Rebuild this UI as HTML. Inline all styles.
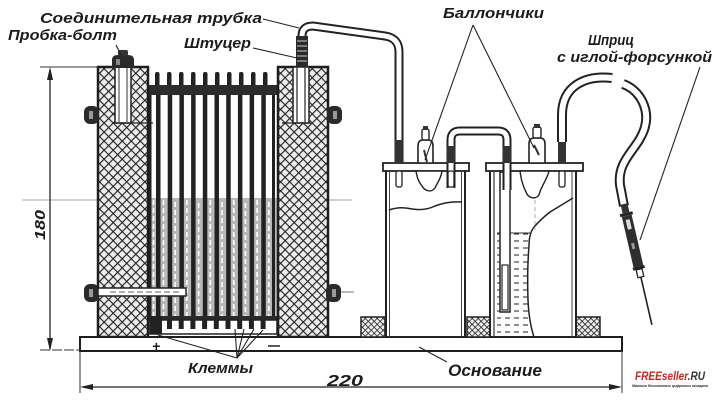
<!DOCTYPE html>
<html><head><meta charset="utf-8">
<style>
html,body{margin:0;padding:0;background:#fff;}
svg{display:block;}
text{font-family:"Liberation Sans",sans-serif;font-weight:bold;font-style:italic;fill:#1c1c1c;}
</style></head><body>
<svg width="720" height="405" viewBox="0 0 720 405" xmlns="http://www.w3.org/2000/svg">
<defs>
<pattern id="h" width="6.4" height="6.4" patternUnits="userSpaceOnUse" patternTransform="rotate(45)">
<rect width="6.4" height="6.4" fill="#ededed"/>
<path d="M0 0H6.4M0 0V6.4" stroke="#222" stroke-width="2.3"/>
</pattern>
<pattern id="hs" width="4.2" height="4.2" patternUnits="userSpaceOnUse" patternTransform="rotate(45)">
<rect width="4.2" height="4.2" fill="#eee"/>
<path d="M0 0H4.2M0 0V4.2" stroke="#262626" stroke-width="1.6"/>
</pattern>
<pattern id="lq" width="9" height="7" patternUnits="userSpaceOnUse">
<path d="M1 3H6" stroke="#333" stroke-width="1.1"/>
</pattern>
</defs>

<rect width="720" height="405" fill="#fff"/>

<!-- faint center lines -->
<line x1="22" y1="200" x2="352" y2="200" stroke="#888" stroke-width="0.8"/>
<line x1="340" y1="292" x2="354" y2="292" stroke="#555" stroke-width="0.8"/>

<!-- Plates region -->
<g>
<rect x="148" y="95" width="130" height="225" fill="#fff"/>
<rect x="149" y="198" width="128" height="120" fill="#b8b8b8"/>
<g fill="#222">
<rect x="156" y="95" width="4.5" height="225"/>
<rect x="167.7" y="95" width="4.5" height="225"/>
<rect x="179.4" y="95" width="4.5" height="225"/>
<rect x="191.1" y="95" width="4.5" height="225"/>
<rect x="202.8" y="95" width="4.5" height="225"/>
<rect x="214.5" y="95" width="4.5" height="225"/>
<rect x="226.2" y="95" width="4.5" height="225"/>
<rect x="237.9" y="95" width="4.5" height="225"/>
<rect x="249.6" y="95" width="4.5" height="225"/>
<rect x="261.3" y="95" width="4.5" height="225"/>
<rect x="272" y="95" width="3" height="225"/>
<rect x="149" y="95" width="2.5" height="225"/>
</g>
<g stroke="#fff" stroke-width="1.6" stroke-dasharray="5 3">
<line x1="163.5" y1="200" x2="163.5" y2="316"/>
<line x1="175.2" y1="202" x2="175.2" y2="316"/>
<line x1="186.9" y1="200" x2="186.9" y2="316"/>
<line x1="198.6" y1="203" x2="198.6" y2="316"/>
<line x1="210.3" y1="200" x2="210.3" y2="316"/>
<line x1="222" y1="202" x2="222" y2="316"/>
<line x1="233.7" y1="200" x2="233.7" y2="316"/>
<line x1="245.4" y1="203" x2="245.4" y2="316"/>
<line x1="257.1" y1="200" x2="257.1" y2="316"/>
<line x1="268.8" y1="202" x2="268.8" y2="316"/>
<line x1="153.5" y1="200" x2="153.5" y2="316"/>
</g>
<g fill="#222">
<rect x="155" y="72" width="4.5" height="16" rx="2"/>
<rect x="167" y="72" width="4.5" height="16" rx="2"/>
<rect x="179" y="72" width="4.5" height="16" rx="2"/>
<rect x="191" y="72" width="4.5" height="16" rx="2"/>
<rect x="203" y="72" width="4.5" height="16" rx="2"/>
<rect x="215" y="72" width="4.5" height="16" rx="2"/>
<rect x="227" y="72" width="4.5" height="16" rx="2"/>
<rect x="239" y="72" width="4.5" height="16" rx="2"/>
<rect x="251" y="72" width="4.5" height="16" rx="2"/>
<rect x="263" y="72" width="4.5" height="16" rx="2"/>
<rect x="148" y="85" width="130" height="10" fill="#2c2c2c"/>
</g>
<rect x="149" y="316" width="129" height="5" fill="#2a2a2a"/>
<rect x="150" y="320" width="127" height="14" fill="#fff" stroke="#222" stroke-width="1.5"/>
<g fill="#222">
<rect x="150" y="316" width="12" height="18"/>
<rect x="167" y="320" width="5" height="9"/>
<rect x="178.7" y="320" width="5" height="9"/>
<rect x="190.4" y="320" width="5" height="9"/>
<rect x="202.1" y="320" width="5" height="9"/>
<rect x="213.8" y="320" width="5" height="9"/>
<rect x="225.5" y="320" width="5" height="9"/>
<rect x="237.2" y="320" width="5" height="9"/>
<rect x="248.9" y="320" width="5" height="9"/>
<rect x="260.6" y="320" width="5" height="9"/>
</g>
</g>

<!-- Hatched blocks -->
<rect x="98" y="67" width="50" height="270" fill="url(#h)" stroke="#1e1e1e" stroke-width="2.5"/>
<rect x="278" y="67" width="50" height="270" fill="url(#h)" stroke="#1e1e1e" stroke-width="2.5"/>

<!-- Left bolt -->
<rect x="115" y="67" width="16" height="56" fill="#fff" stroke="#222" stroke-width="1.5"/>
<line x1="119" y1="67" x2="119" y2="122" stroke="#333" stroke-width="1"/>
<line x1="127" y1="67" x2="127" y2="122" stroke="#333" stroke-width="1"/>
<line x1="113" y1="123" x2="153" y2="123" stroke="#222" stroke-width="1.2"/>
<path d="M112,68 L112,60 Q112,55 118,55 L128,55 Q134,55 134,60 L134,68 Z" fill="#2a2a2a"/>
<rect x="118" y="50" width="10" height="6" rx="2" fill="#333"/>
<rect x="116" y="59" width="4" height="6" fill="#888"/>

<!-- Right fitting -->
<rect x="293" y="67" width="16" height="56" fill="#fff" stroke="#222" stroke-width="1.5"/>
<line x1="297" y1="67" x2="297" y2="122" stroke="#333" stroke-width="1.3"/>
<line x1="305" y1="67" x2="305" y2="122" stroke="#333" stroke-width="1.3"/>
<line x1="282" y1="123" x2="311" y2="123" stroke="#222" stroke-width="1.2"/>

<!-- Connecting tube -->
<path d="M302,48 L302,36 Q302,26 313,26 L385,36 Q399,38 399,52 L399,186" fill="none" stroke="#222" stroke-width="9"/>
<path d="M302,48 L302,36 Q302,26 313,26 L385,36 Q399,38 399,52 L399,186" fill="none" stroke="#fff" stroke-width="5"/>
<rect x="296" y="36" width="12" height="31" fill="#2a2a2a"/>
<g stroke="#ccc" stroke-width="1">
<line x1="297" y1="41" x2="307" y2="41"/>
<line x1="297" y1="46" x2="307" y2="46"/>
<line x1="297" y1="51" x2="307" y2="51"/>
<line x1="297" y1="56" x2="307" y2="56"/>
<line x1="297" y1="61" x2="307" y2="61"/>
</g>

<!-- Side nuts -->
<g fill="#2a2a2a">
<rect x="84" y="106" width="15" height="18" rx="6"/>
<rect x="327" y="106" width="15" height="18" rx="6"/>
<rect x="84" y="284" width="15" height="18" rx="6"/>
<rect x="326" y="284" width="15" height="18" rx="6"/>
</g>
<g fill="#999">
<rect x="89" y="111" width="4" height="8"/>
<rect x="333" y="111" width="4" height="8"/>
<rect x="89" y="289" width="4" height="8"/>
<rect x="332" y="289" width="4" height="8"/>
</g>
<rect x="98" y="288" width="88" height="8" fill="#fff" stroke="#222" stroke-width="1.5"/>
<line x1="110" y1="292" x2="180" y2="292" stroke="#666" stroke-width="1" stroke-dasharray="6 3"/>

<!-- Base -->
<rect x="80" y="337" width="542" height="14" fill="#fff" stroke="#1e1e1e" stroke-width="2"/>
<line x1="40" y1="350" x2="80" y2="350" stroke="#333" stroke-width="1" stroke-dasharray="10 2"/>

<!-- Dimension 180 -->
<line x1="40" y1="67" x2="98" y2="67" stroke="#333" stroke-width="1"/>
<line x1="50" y1="70" x2="50" y2="349" stroke="#222" stroke-width="1.3"/>
<path d="M50,67 L47,80 L53,80 Z" fill="#222"/>
<path d="M50,351 L47,338 L53,338 Z" fill="#222"/>
<text transform="translate(45,225) rotate(-90)" text-anchor="middle" font-size="15" textLength="30" lengthAdjust="spacingAndGlyphs">180</text>

<!-- Dimension 220 -->
<line x1="80" y1="351" x2="80" y2="393" stroke="#333" stroke-width="1"/>
<line x1="622" y1="351" x2="622" y2="393" stroke="#333" stroke-width="1"/>
<line x1="83" y1="387" x2="619" y2="387" stroke="#222" stroke-width="1.3"/>
<path d="M80,387 L93,384 L93,390 Z" fill="#222"/>
<path d="M622,387 L609,384 L609,390 Z" fill="#222"/>
<text x="327" y="386" font-size="16" textLength="36" lengthAdjust="spacingAndGlyphs">220</text>

<!-- small hatched blocks -->
<rect x="361" y="317" width="24" height="20" fill="url(#hs)" stroke="#222" stroke-width="1.5"/>
<rect x="467" y="317" width="23" height="20" fill="url(#hs)" stroke="#222" stroke-width="1.5"/>
<rect x="576" y="317" width="24" height="20" fill="url(#hs)" stroke="#222" stroke-width="1.5"/>

<!-- Left jar -->
<rect x="386" y="170" width="79" height="167" fill="#fff" stroke="#222" stroke-width="2"/>
<line x1="389.5" y1="172" x2="389.5" y2="337" stroke="#444" stroke-width="1"/>
<line x1="461.5" y1="172" x2="461.5" y2="337" stroke="#444" stroke-width="1"/>
<path d="M389,210 Q400,206 412,209 Q425,211 435,206 Q448,201 462,202" fill="none" stroke="#222" stroke-width="1.5"/>
<!-- Right jar -->
<rect x="490" y="170" width="86" height="167" fill="#fff" stroke="#222" stroke-width="2"/>
<line x1="494" y1="172" x2="494" y2="337" stroke="#333" stroke-width="1.2"/>
<line x1="572" y1="172" x2="572" y2="337" stroke="#444" stroke-width="1"/>
<path d="M497,233 L530,233 Q527,250 528,270 Q526,300 530,320 Q533,330 534,337 L497,337 Z" fill="url(#lq)"/>
<path d="M573,198 Q560,206 550,212 Q540,220 535,226 Q529,232 529,246 Q527,270 528,300 Q529,322 534,337" fill="none" stroke="#222" stroke-width="1.5"/>
<line x1="497" y1="233" x2="530" y2="233" stroke="#333" stroke-width="1"/>
<rect x="500" y="172" width="10" height="140" fill="#fff" stroke="#222" stroke-width="1.5"/>
<rect x="502" y="265" width="6" height="45" fill="#fff" stroke="#222" stroke-width="1.2"/>
<line x1="535" y1="172" x2="535" y2="230" stroke="#999" stroke-width="0.8" stroke-dasharray="4 3"/>

<!-- lids -->
<rect x="383" y="163" width="86" height="8" fill="#fff" stroke="#222" stroke-width="1.8"/>
<rect x="486" y="163" width="97" height="8" fill="#fff" stroke="#222" stroke-width="1.8"/>

<!-- funnels -->
<path d="M416,171 L442,171 C441,179 437,183 435,188 C431,193 425,191 422,186 C418,181 417,177 416,171 Z" fill="#fff" stroke="#222" stroke-width="1.4"/>
<path d="M520,171 L549,171 C547,180 541,186 539,195 C535,200 528,198 526,192 C522,184 521,178 520,171 Z" fill="#fff" stroke="#222" stroke-width="1.4"/>

<!-- U tube -->
<path d="M451,188 L451,140 Q451,131 460,131 L498,131 Q507,131 507,140 L507,190" fill="none" stroke="#222" stroke-width="9"/>
<path d="M451,188 L451,140 Q451,131 460,131 L498,131 Q507,131 507,140 L507,190" fill="none" stroke="#fff" stroke-width="5"/>
<g fill="#333">
<rect x="395" y="140" width="8" height="23"/>
<rect x="447" y="146" width="8" height="17"/>
<rect x="503" y="146" width="8" height="17"/>
<rect x="558" y="140" width="8" height="23"/>
</g>
<g fill="#fff" stroke="#222" stroke-width="1.3">
<rect x="396" y="171" width="6" height="16" rx="2"/>
<rect x="448" y="171" width="6" height="16" rx="2"/>
<rect x="559" y="171" width="6" height="16" rx="2"/>
</g>

<!-- balloons -->
<path d="M418,163 L418,146 Q418,140 423,140 L428,140 Q433,140 433,146 L433,163 Z" fill="#fff" stroke="#222" stroke-width="1.6"/>
<rect x="422" y="129" width="7" height="11" rx="2" fill="#fff" stroke="#222" stroke-width="1.4"/>
<rect x="423" y="126" width="5" height="4" fill="#333"/>
<line x1="424" y1="150" x2="427" y2="162" stroke="#333" stroke-width="2"/>
<path d="M529,163 L529,144 Q529,138 534,138 L540,138 Q545,138 545,144 L545,163 Z" fill="#fff" stroke="#222" stroke-width="1.6"/>
<rect x="533" y="127" width="8" height="11" rx="2" fill="#fff" stroke="#222" stroke-width="1.4"/>
<rect x="534" y="124" width="6" height="4" fill="#333"/>
<line x1="534" y1="145" x2="539" y2="155" stroke="#333" stroke-width="2"/>

<!-- hose -->
<path d="M562,142 L562,115 C562,86 585,75 612,78" fill="none" stroke="#222" stroke-width="10"/>
<path d="M562,142 L562,115 C562,86 585,75 612,78" fill="none" stroke="#fff" stroke-width="6"/>
<path d="M623,84 C640,90 651,110 644,130 C637,150 617,160 620,185 L624,206" fill="none" stroke="#222" stroke-width="10"/>
<path d="M623,84 C640,90 651,110 644,130 C637,150 617,160 620,185 L624,206" fill="none" stroke="#fff" stroke-width="6"/>

<!-- syringe -->
<g transform="translate(624,204) rotate(-13)">
<rect x="-3.5" y="0" width="7" height="9" fill="#333"/>
<rect x="-6.5" y="9" width="13" height="3" fill="#222"/>
<rect x="-5" y="12" width="10" height="52" fill="#2e2e2e"/>
<rect x="-2" y="16" width="4" height="10" fill="#ddd"/>
<rect x="-2" y="40" width="3" height="6" fill="#999"/>
<rect x="-6" y="64" width="12" height="3" fill="#222"/>
<rect x="-3" y="67" width="6" height="8" fill="#fff" stroke="#222" stroke-width="1.3"/>
<line x1="0" y1="75" x2="0" y2="124" stroke="#222" stroke-width="1.6"/>
</g>

<!-- Leader lines -->
<g stroke="#222" stroke-width="1.1" fill="none">
<line x1="263" y1="19" x2="299" y2="28"/>
<line x1="116" y1="45" x2="122" y2="57"/>
<line x1="253" y1="48" x2="297" y2="58"/>
<line x1="473" y1="25" x2="425" y2="160"/>
<line x1="473" y1="25" x2="534" y2="148"/>
<line x1="700" y1="67" x2="640" y2="240"/>
<line x1="237" y1="358" x2="158" y2="335"/>
<line x1="237" y1="358" x2="235" y2="329"/>
<line x1="237" y1="358" x2="244" y2="329"/>
<line x1="237" y1="358" x2="254" y2="329"/>
<line x1="237" y1="358" x2="263" y2="330"/>
<line x1="447" y1="362" x2="419" y2="347"/>
</g>

<text x="152" y="351" font-size="14" font-style="normal">+</text>
<line x1="268" y1="346" x2="280" y2="346" stroke="#222" stroke-width="1.5"/>

<!-- Labels -->
<text x="40" y="23" font-size="15" textLength="222" lengthAdjust="spacingAndGlyphs">Соединительная трубка</text>
<text x="8" y="40" font-size="15" textLength="109" lengthAdjust="spacingAndGlyphs">Пробка-болт</text>
<text x="184" y="48" font-size="15" textLength="67" lengthAdjust="spacingAndGlyphs">Штуцер</text>
<text x="443" y="18" font-size="15" textLength="101" lengthAdjust="spacingAndGlyphs">Баллончики</text>
<text x="588" y="45" font-size="15" textLength="46" lengthAdjust="spacingAndGlyphs">Шприц</text>
<text x="557" y="62" font-size="15" textLength="155" lengthAdjust="spacingAndGlyphs">с иглой-форсункой</text>
<text x="188" y="373" font-size="15" textLength="65" lengthAdjust="spacingAndGlyphs">Клеммы</text>
<text x="448" y="376" font-size="17" textLength="94" lengthAdjust="spacingAndGlyphs">Основание</text>

<text x="635" y="380" font-size="11.5" font-style="normal" textLength="70" lengthAdjust="spacingAndGlyphs"><tspan fill="#c8261e">FREEseller</tspan><tspan fill="#333">.RU</tspan></text>
<text x="632" y="387" font-size="4" font-style="normal" font-weight="normal" fill="#666" textLength="76" lengthAdjust="spacingAndGlyphs">Магазин бесплатных цифровых товаров</text>
</svg>
</body></html>
